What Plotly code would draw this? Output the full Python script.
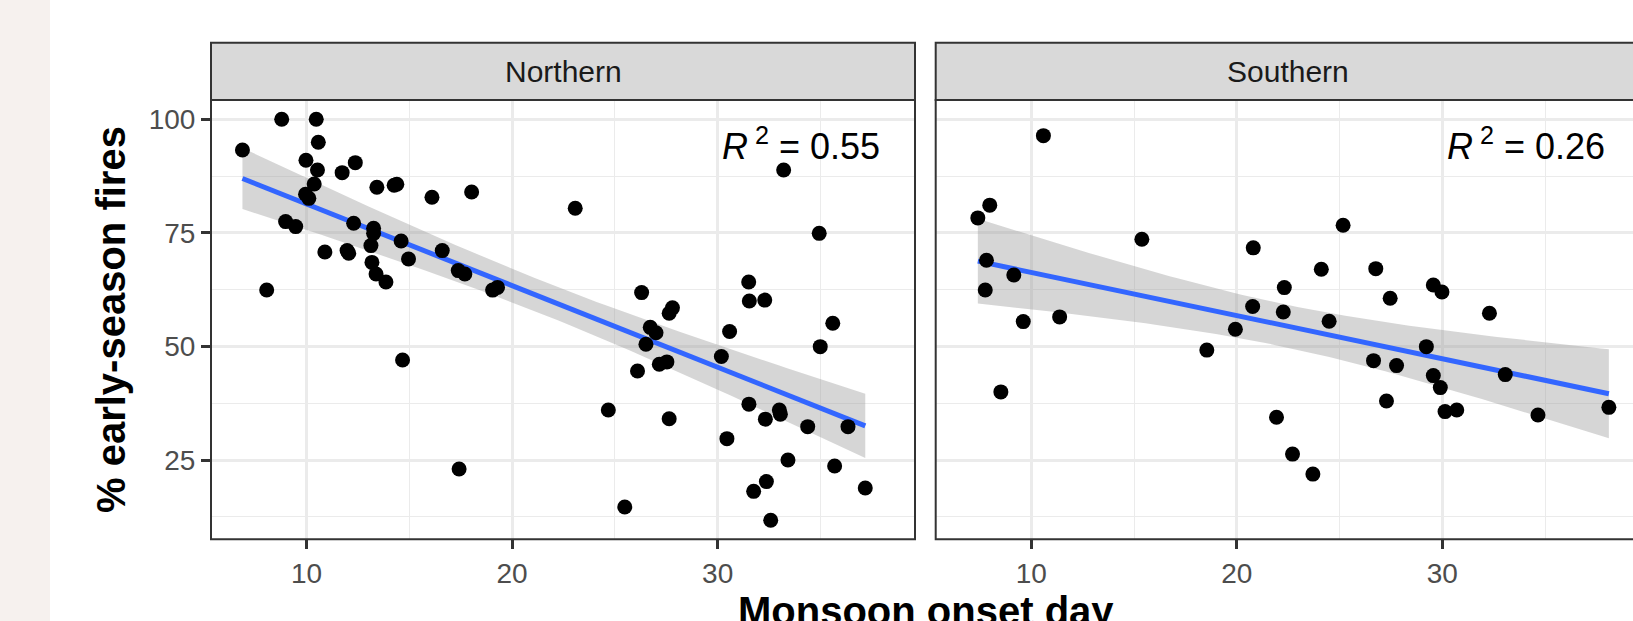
import numpy as np
import plotly.graph_objects as go

# ---------------- data ----------------
panels = ["Northern", "Southern"]
r2_labels = ["0.55", "0.26"]

north_x = [6.88, 8.79, 10.47, 10.57, 9.97, 12.37, 10.53, 11.73, 10.37, 9.95, 10.11,
           13.42, 14.26, 14.39, 16.10, 18.03, 23.07, 8.98, 9.47, 12.29, 13.26, 13.26,
           13.13, 14.60, 14.96, 10.89, 11.97, 12.05, 13.18, 13.38, 13.86, 16.60, 17.38,
           17.70, 19.05, 19.29, 8.06, 14.67, 17.42, 26.30, 27.64, 27.80, 26.72, 27.00,
           26.51, 27.16, 27.53, 26.10, 24.68, 27.64, 25.48, 33.21, 34.94, 31.51, 31.54,
           32.29, 35.60, 30.58, 34.99, 30.18, 31.52, 32.32, 33.00, 33.05, 34.38, 36.34,
           30.45, 33.42, 35.69, 37.18, 32.37, 31.75, 32.58]
north_y = [93.25, 100.0, 100.0, 94.94, 90.98, 90.46, 88.85, 88.26, 85.77, 83.5, 82.6,
           85.03, 85.5, 85.7, 82.83, 84.0, 80.41, 77.48, 76.38, 77.11, 76.0, 74.9,
           72.2, 73.2, 69.26, 70.8, 71.1, 70.5, 68.5, 65.96, 64.2, 71.1, 66.7,
           65.96, 62.4, 63.0, 62.44, 47.03, 23.04, 61.85, 57.3, 58.5, 54.2, 53.0,
           50.48, 46.07, 46.6, 44.6, 36.0, 34.1, 14.67, 88.85, 74.9, 64.2, 60.0,
           60.2, 55.1, 53.3, 49.96, 47.8, 37.3, 34.0, 36.0, 35.1, 32.35, 32.35,
           29.7, 25.0, 23.7, 18.85, 20.25, 18.1, 11.74]

south_x = [10.59, 7.98, 7.40, 15.38, 20.80, 7.82, 9.15, 7.76, 22.31, 20.77, 22.26,
           9.61, 11.38, 19.93, 18.54, 8.52, 21.93, 22.71, 23.70, 24.11, 25.17, 26.76,
           27.46, 24.49, 29.56, 29.98, 32.29, 29.22, 26.65, 27.77, 29.56, 29.90, 33.06,
           27.28, 30.13, 30.70, 34.65, 38.10]
south_y = [96.4, 81.1, 78.3, 73.6, 71.7, 68.97, 65.74, 62.44, 62.95, 58.8, 57.6,
           55.47, 56.5, 53.8, 49.2, 40.0, 34.4, 26.3, 21.9, 66.98, 76.67, 67.13,
           60.6, 55.54, 63.54, 62.0, 57.3, 49.96, 46.88, 45.78, 43.58, 40.94, 43.8,
           38.0, 35.66, 36.0, 34.9, 36.6]

x_title = "Monsoon onset day"
y_title = "% early-season fires"

# ---------------- layout constants (pixels of the 1633x621 page) ----------------
W, H = 1633, 621
FONT = "Liberation Sans, Arial, Helvetica, sans-serif"
PANEL_TOP, PANEL_BOT = 100.0, 539.3
STRIP_TOP = 42.7
L0, L1 = 211.0, 915.0
R0 = 935.7
XR = [5.35, 39.60]
YR = [7.55, 104.25]
xr2_end = XR[0] + (XR[1] - XR[0]) * (W - R0) / (L1 - L0)


def t975(df):
    z = 1.959964
    return (z + (z**3 + z) / (4 * df) + (5 * z**5 + 16 * z**3 + 3 * z) / (96 * df**2)
            + (3 * z**7 + 19 * z**5 + 17 * z**3 - 15 * z) / (384 * df**3))


def lm_band(x, y):
    x = np.asarray(x, float)
    y = np.asarray(y, float)
    n = len(x)
    b1, b0 = np.polyfit(x, y, 1)
    xs = np.linspace(x.min(), x.max(), 80)
    fit = b0 + b1 * xs
    resid = y - (b0 + b1 * x)
    s = np.sqrt(np.sum(resid**2) / (n - 2))
    sxx = np.sum((x - x.mean()) ** 2)
    se = s * np.sqrt(1.0 / n + (xs - x.mean()) ** 2 / sxx)
    t = t975(n - 2)
    return xs, fit, fit - t * se, fit + t * se


fig = go.Figure()
datasets = [(north_x, north_y, "x", "y"), (south_x, south_y, "x2", "y2")]
for (xv, yv, xa, ya) in datasets:
    xs, fit, lo, hi = lm_band(xv, yv)
    fig.add_trace(go.Scatter(x=list(xs) + list(xs[::-1]), y=list(hi) + list(lo[::-1]),
                             fill="toself", fillcolor="rgba(153,153,153,0.4)",
                             line=dict(width=0), mode="lines", hoverinfo="skip",
                             xaxis=xa, yaxis=ya))
    fig.add_trace(go.Scatter(x=xs, y=fit, mode="lines",
                             line=dict(color="#3366FF", width=5),
                             xaxis=xa, yaxis=ya))
    fig.add_trace(go.Scatter(x=xv, y=yv, mode="markers",
                             marker=dict(color="black", size=15, line=dict(width=0)),
                             xaxis=xa, yaxis=ya))

grid = "#EBEBEB"
common_x = dict(range=XR, tick0=0, dtick=10, showgrid=True, gridcolor=grid, gridwidth=2.5,
                minor=dict(dtick=5, tick0=0, showgrid=True, gridcolor=grid, gridwidth=1.3, ticks=""),
                ticks="outside", ticklen=9, tickwidth=2.5, tickcolor="#333333",
                tickfont=dict(family=FONT, size=28, color="#4D4D4D"),
                zeroline=False, showline=False, fixedrange=True)
common_y = dict(range=YR, tick0=0, dtick=25, showgrid=True, gridcolor=grid, gridwidth=2.5,
                minor=dict(dtick=12.5, tick0=0, showgrid=True, gridcolor=grid, gridwidth=1.3, ticks=""),
                zeroline=False, showline=False, fixedrange=True,
                domain=[(H - PANEL_BOT) / H, (H - PANEL_TOP) / H])

fig.update_layout(
    width=W, height=H, margin=dict(l=0, r=0, t=0, b=0),
    paper_bgcolor="white", plot_bgcolor="white", showlegend=False,
    xaxis=dict(common_x, domain=[L0 / W, L1 / W], anchor="y"),
    xaxis2=dict(common_x, domain=[R0 / W, 1.0], anchor="y2",
                range=[XR[0], xr2_end]),
    yaxis=dict(common_y, anchor="x", ticks="outside", ticklen=9, tickwidth=2.5,
               tickcolor="#333333", tickfont=dict(family=FONT, size=28, color="#4D4D4D")),
    yaxis2=dict(common_y, anchor="x2", matches="y", showticklabels=False, ticks=""),
)

strip_y0 = (H - PANEL_TOP) / H
strip_y1 = (H - STRIP_TOP) / H
shapes = [
    dict(type="rect", xref="paper", yref="paper", x0=0, x1=50 / W, y0=0, y1=1,
         fillcolor="#F6F1EE", line=dict(width=0), layer="below"),
]
for xd, yd, x1 in [("x domain", "y domain", 1.0), ("x2 domain", "y2 domain", 1.05)]:
    shapes.append(dict(type="rect", xref=xd, yref=yd, x0=0, x1=x1, y0=0, y1=1,
                       line=dict(color="#333333", width=2), fillcolor="rgba(0,0,0,0)",
                       layer="above"))
    shapes.append(dict(type="rect", xref=xd, yref="paper", x0=0, x1=x1,
                       y0=strip_y0, y1=strip_y1,
                       line=dict(color="#333333", width=2), fillcolor="#D9D9D9",
                       layer="above"))

strip_mid = (H - (STRIP_TOP + PANEL_TOP) / 2) / H
right_center = ((L0 + L1) / 2 - L0) / (W - R0)
annotations = [
    dict(text=panels[0], xref="x domain", yref="paper", x=0.5, y=strip_mid,
         showarrow=False, xanchor="center", yanchor="middle",
         font=dict(family=FONT, size=30, color="#1A1A1A")),
    dict(text=panels[1], xref="x2 domain", yref="paper", x=right_center, y=strip_mid,
         showarrow=False, xanchor="center", yanchor="middle",
         font=dict(family=FONT, size=30, color="#1A1A1A")),
]
for lab, xa, ya in zip(r2_labels, ["x", "x2"], ["y", "y2"]):
    annotations.append(dict(text="<i>R</i><sup> 2</sup> = " + lab, xref=xa, yref=ya,
                            x=38.0, y=94.6, showarrow=False, xanchor="right",
                            yanchor="middle",
                            font=dict(family=FONT, size=36, color="black")))
annotations.append(dict(text="<b>" + y_title + "</b>", xref="paper", yref="paper",
                        x=111 / W, y=(H - 320) / H, textangle=-90, showarrow=False,
                        xanchor="center", yanchor="middle",
                        font=dict(family=FONT, size=40, color="black")))
annotations.append(dict(text="<b>" + x_title + "</b>", xref="paper", yref="paper",
                        x=925.5 / W, y=(H - 611) / H, showarrow=False,
                        xanchor="center", yanchor="middle",
                        font=dict(family=FONT, size=40, color="black")))

fig.update_layout(shapes=shapes, annotations=annotations)
fig.write_html("out.html")
